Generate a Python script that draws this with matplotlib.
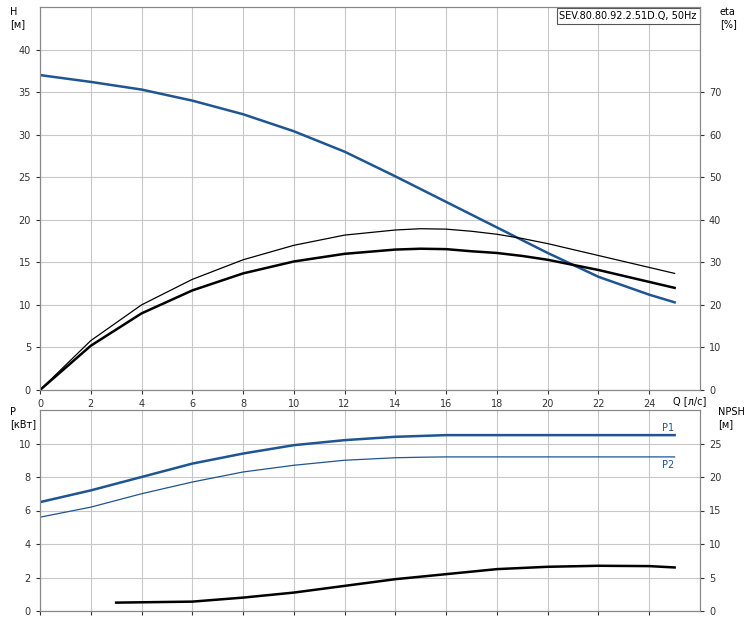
import matplotlib
matplotlib.use('Agg')
import matplotlib.pyplot as plt
import numpy as np

# top chart data (Q in l/s)
q = [0, 2, 4, 6, 8, 10, 12, 14, 15, 16, 17, 18, 19, 20, 22, 24, 25]
head = [37, 36.2, 35.3, 34, 32.4, 30.4, 28, 25.1, 23.6, 22.1, 20.6, 19.1, 17.6, 16.1, 13.3, 11.2, 10.3]
eta = [0, 10.4, 18, 23.4, 27.4, 30.2, 32, 33, 33.2, 33.1, 32.6, 32.2, 31.5, 30.6, 28.2, 25.4, 24]
eta2 = [0, 11.6, 20, 26, 30.6, 34, 36.4, 37.6, 37.9, 37.8, 37.3, 36.6, 35.6, 34.4, 31.6, 28.8, 27.4]

# bottom chart data
p1 = [6.5, 7.2, 8, 8.8, 9.4, 9.9, 10.2, 10.4, 10.45, 10.5, 10.5, 10.5, 10.5, 10.5, 10.5, 10.5, 10.5]
p2 = [5.6, 6.2, 7, 7.7, 8.3, 8.7, 9, 9.15, 9.18, 9.2, 9.2, 9.2, 9.2, 9.2, 9.2, 9.2, 9.2]
q_npsh = [3, 6, 8, 10, 12, 14, 16, 18, 20, 22, 24, 25]
npsh = [1.25, 1.4, 2, 2.75, 3.75, 4.75, 5.5, 6.25, 6.6, 6.75, 6.7, 6.5]

blue = '#1f5590'
W, H = 756, 622
fig = plt.figure(figsize=(W/100, H/100), dpi=100)
ax = fig.add_axes([40/W, 1-390/H, 660/W, 383/H])
ax2 = ax.twinx()
bx = fig.add_axes([40/W, 1-611/H, 660/W, 201/H])
bx2 = bx.twinx()

ax.plot(q, head, color=blue, lw=1.8)
ax2.plot(q, eta, color='k', lw=1.8)
ax2.plot(q, eta2, color='k', lw=0.9)
ax.set_xlim(0, 26)
ax.set_ylim(0, 45)
ax2.set_ylim(0, 90)
ax.set_xticks(range(0, 26, 2))
ax.set_yticks(range(0, 45, 5))
ax2.set_yticks(range(0, 80, 10))
ax.grid(True, color='#c8c8c8', lw=0.8)

bx.plot(q, p1, color=blue, lw=1.8)
bx.plot(q, p2, color=blue, lw=0.9)
bx2.plot(q_npsh, npsh, color='k', lw=1.8)
bx.set_xlim(0, 26)
bx.set_ylim(0, 12)
bx2.set_ylim(0, 30)
bx.set_xticks(range(0, 26, 2))
bx.set_xticklabels([])
bx.set_yticks(range(0, 12, 2))
bx2.set_yticks(range(0, 30, 5))
bx.grid(True, color='#c8c8c8', lw=0.8)
bx.text(25, 10.6, 'P1', color=blue, fontsize=7, va='bottom', ha='right')
bx.text(25, 9.0, 'P2', color=blue, fontsize=7, va='top', ha='right')

for a in (ax, ax2, bx, bx2):
    a.tick_params(labelsize=7, length=3, colors='#333333')
    for s in a.spines.values():
        s.set_color('#888888')

fig.text(10/W, 1-18/H, 'H\n[м]', fontsize=7, va='center')
fig.text(720/W, 1-18/H, 'eta\n[%]', fontsize=7, va='center')
fig.text(10/W, 1-418/H, 'P\n[кВт]', fontsize=7, va='center')
fig.text(718/W, 1-418/H, 'NPSH\n[м]', fontsize=7, va='center')
fig.text(673/W, 1-401/H, 'Q [л/с]', fontsize=7, va='center')
ax.text(0.995, 0.99, 'SEV.80.80.92.2.51D.Q, 50Hz', transform=ax.transAxes, fontsize=7,
        ha='right', va='top', bbox=dict(facecolor='white', edgecolor='#555555', lw=0.8, pad=2))

fig.savefig('out.png', dpi=100)
